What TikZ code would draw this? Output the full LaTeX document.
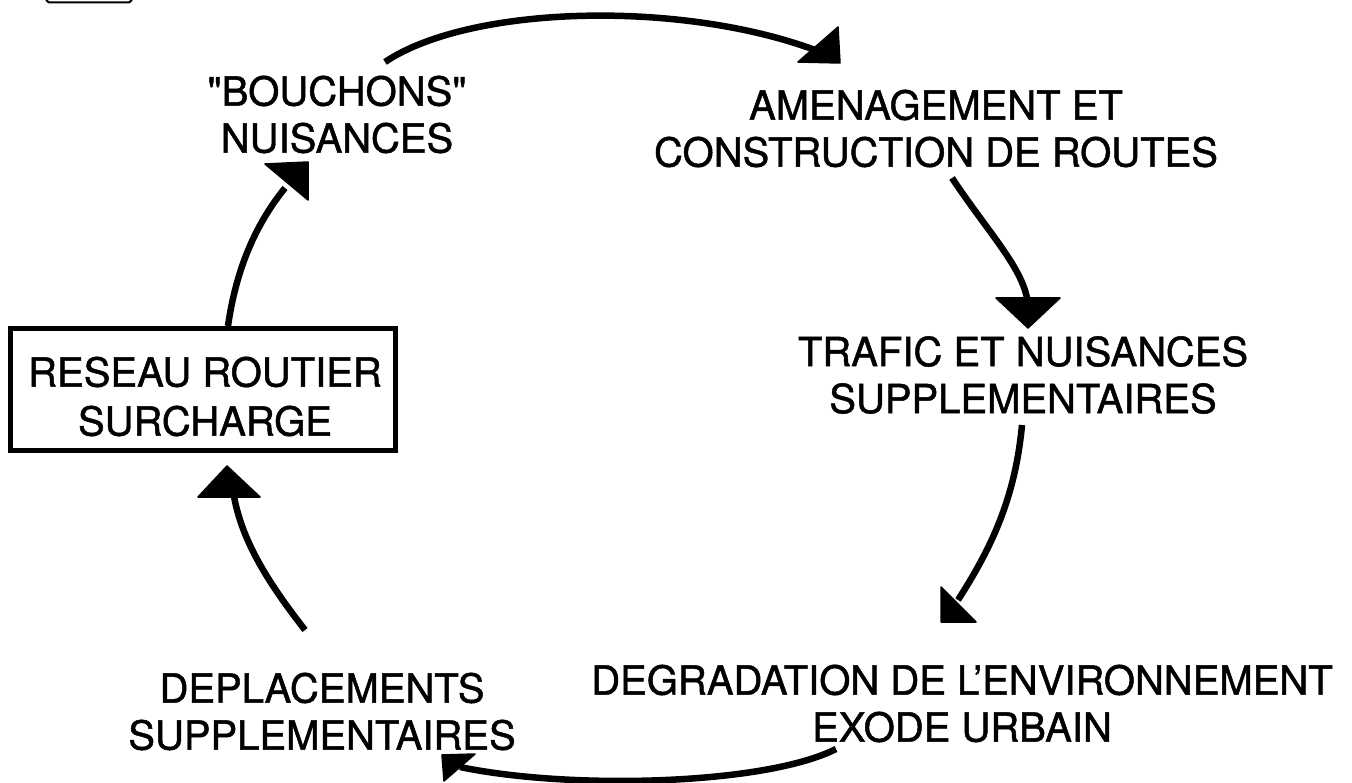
\documentclass[tikz,border=0pt]{standalone}
\usepackage{fontspec}
\setmainfont{TeX Gyre Heros}
\newfontfamily\lblfont{TeX Gyre Heros}[FakeBold=1.2]
\begin{document}
\begin{tikzpicture}[x=1pt,y=-1pt,
  lbl/.style={align=center, inner sep=0pt, font=\lblfont\fontsize{40}{47}\selectfont},
  conn/.style={line width=6.5pt},
  head/.style={fill=black, draw=black, line width=1.5pt, line join=round},
  boxst/.style={draw, line width=4.5pt, minimum width=385pt, minimum height=122pt, inner sep=0pt}]
\useasboundingbox (0,0) rectangle (1352,783);
% fragment at top-left
\draw[line width=2pt] (46,0) -- (49,2.5) -- (129,2.5) -- (132,0);
% nodes
\node[lbl] (bouch) at (337,114.5) {"BOUCHONS"\\NUISANCES};
\node[lbl] (amen) at (936,128.5) {AMENAGEMENT ET\\CONSTRUCTION DE ROUTES};
\node[lbl] (trafic) at (1023,375) {TRAFIC ET NUISANCES\\SUPPLEMENTAIRES};
\node[lbl] (degr) at (962,703.5) {DEGRADATION DE L’ENVIRONNEMENT\\EXODE URBAIN};
\node[lbl] (depl) at (322,711.5) {DEPLACEMENTS\\SUPPLEMENTAIRES};
\node[boxst] (box) at (203,389.5) {};
\node[lbl, font=\lblfont\fontsize{40}{49}\selectfont] (boxt) at (205,396.5) {RESEAU ROUTIER\\SURCHARGE};
% connector end points
\coordinate (a1s) at (385,62);   \coordinate (a1e) at (815,50);
\coordinate (a2s) at (952,178);  \coordinate (a2e) at (1028,305);
\coordinate (a3s) at (1022,425); \coordinate (a3e) at (958,600);
\coordinate (a4s) at (836,749);  \coordinate (a4e) at (460,767);
\coordinate (a5s) at (305,630);  \coordinate (a5e) at (233,490);
\coordinate (a6s) at (228,326);  \coordinate (a6e) at (285,188);
% connectors
\draw[conn] (a1s) .. controls (470,5) and (680,0) .. (a1e);
\filldraw[head] (838,27) -- (840,63) -- (798,62) -- cycle;
\draw[conn] (a2s) .. controls (990,235) and (1025,270) .. (a2e);
\filldraw[head] (996,298) -- (1060,298) -- (1028,328) -- cycle;
\draw[conn] (a3s) .. controls (1015,500) and (990,550) .. (a3e);
\filldraw[head] (941,587) -- (941,622) -- (976,622) -- cycle;
\draw[conn] (a4s) .. controls (765,785) and (570,790) .. (a4e);
\filldraw[head] (442,755) -- (475,754) -- (444,781) -- cycle;
\draw[conn] (a5s) .. controls (270,585) and (240,540) .. (a5e);
\filldraw[head] (198,497) -- (260,497) -- (227,466) -- cycle;
\draw[conn] (a6s) .. controls (236,270) and (255,225) .. (a6e);
\filldraw[head] (265,164) -- (308,162) -- (308,200) -- cycle;
\end{tikzpicture}
\end{document}
